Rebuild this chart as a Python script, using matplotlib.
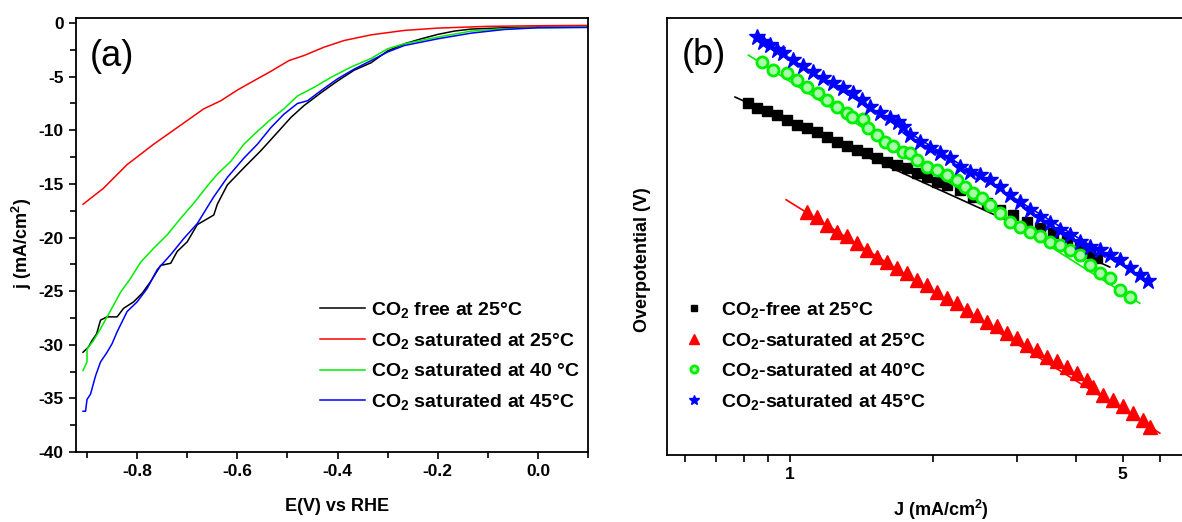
import matplotlib
matplotlib.use("Agg")
from matplotlib import pyplot as plt
from matplotlib import ticker as mtick

plt.rcParams['font.family'] = ['Liberation Sans', 'DejaVu Sans']
plt.rcParams['font.weight'] = 'bold'
plt.rcParams['axes.labelweight'] = 'bold'
plt.rcParams['mathtext.default'] = 'regular'
plt.rcParams['axes.unicode_minus'] = False

# --- (a) polarisation curves: E (V vs RHE) and j (mA/cm2) ---
e_free = [-0.908, -0.897, -0.89, -0.881, -0.873, -0.86, -0.84, -0.827, -0.807, -0.79, -0.773,
          -0.753, -0.733, -0.72, -0.70, -0.68, -0.647, -0.64, -0.62, -0.587, -0.553, -0.52,
          -0.493, -0.467, -0.433, -0.40, -0.367, -0.333, -0.30, -0.267, -0.233, -0.20, -0.167,
          -0.133, -0.067, 0.0, 0.10]
j_free = [-30.7, -30.2, -29.6, -29.0, -27.7, -27.4, -27.4, -26.6, -26.0, -25.2, -24.1,
          -22.6, -22.4, -21.3, -20.4, -18.8, -17.9, -16.9, -15.1, -13.5, -11.9, -10.2,
          -8.8, -7.7, -6.5, -5.4, -4.4, -3.7, -2.6, -1.94, -1.47, -1.06, -0.75,
          -0.56, -0.44, -0.38, -0.38]

e_sat25 = [-0.908, -0.867, -0.82, -0.767, -0.72, -0.667, -0.633, -0.60, -0.56, -0.533, -0.497,
           -0.467, -0.427, -0.387, -0.333, -0.267, -0.20, -0.10, 0.0, 0.10]
j_sat25 = [-16.9, -15.4, -13.2, -11.3, -9.75, -8.0, -7.25, -6.25, -5.2, -4.5, -3.5,
           -3.03, -2.25, -1.63, -1.1, -0.69, -0.47, -0.31, -0.25, -0.22]

e_sat40 = [-0.908, -0.90, -0.90, -0.887, -0.873, -0.86, -0.847, -0.833, -0.813, -0.793, -0.767,
           -0.74, -0.713, -0.687, -0.66, -0.64, -0.613, -0.587, -0.56, -0.533, -0.507, -0.48,
           -0.447, -0.413, -0.373, -0.333, -0.30, -0.267, -0.20, -0.133, -0.067, 0.0, 0.10]
j_sat40 = [-32.4, -31.6, -30.4, -29.6, -28.5, -27.4, -26.3, -25.1, -23.8, -22.3, -21.0,
           -19.75, -18.2, -16.8, -15.2, -14.1, -12.9, -11.3, -10.1, -8.97, -8.0, -6.8,
           -6.0, -5.06, -4.1, -3.3, -2.4, -1.94, -1.31, -0.75, -0.53, -0.44, -0.38]

e_sat45 = [-0.908, -0.903, -0.90, -0.893, -0.883, -0.873, -0.86, -0.85, -0.84, -0.82, -0.80,
           -0.78, -0.76, -0.733, -0.707, -0.68, -0.647, -0.62, -0.587, -0.56, -0.533, -0.507,
           -0.48, -0.46, -0.433, -0.40, -0.367, -0.333, -0.30, -0.267, -0.20, -0.133, -0.067,
           0.0, 0.10]
j_sat45 = [-36.2, -36.2, -35.1, -34.6, -32.9, -31.6, -30.7, -29.9, -28.8, -26.9, -26.0,
           -24.75, -23.0, -21.6, -20.1, -18.7, -16.2, -14.4, -12.6, -11.3, -9.75, -8.5,
           -7.5, -7.25, -6.3, -5.2, -4.3, -3.5, -2.7, -2.1, -1.47, -0.94, -0.6,
           -0.44, -0.41]

labels_a = ['CO$_2$ free at 25°C', 'CO$_2$ saturated at 25°C',
            'CO$_2$ saturated at 40 °C', 'CO$_2$ saturated at 45°C']

# --- (b) Tafel plots: J (mA/cm2) against overpotential ---
tj_free = [0.817, 0.851, 0.894, 0.938, 0.984, 1.033, 1.084, 1.138, 1.194, 1.253, 1.315,
           1.381, 1.449, 1.521, 1.596, 1.676, 1.759, 1.846, 1.937, 2.033, 2.134, 2.276,
           2.427, 2.590, 2.762, 2.945, 3.143, 3.352, 3.574, 3.814, 4.067, 4.269, 4.410]
eta_free = [0.805, 0.793, 0.786, 0.778, 0.767, 0.755, 0.748, 0.740, 0.728, 0.717, 0.706,
            0.698, 0.690, 0.679, 0.671, 0.664, 0.656, 0.645, 0.637, 0.625, 0.618, 0.606,
            0.591, 0.576, 0.561, 0.549, 0.534, 0.519, 0.507, 0.492, 0.477, 0.462, 0.450]
fit_j_free = [0.766, 4.70]
fit_eta_free = [0.819, 0.430]

tj_sat25 = [1.084, 1.138, 1.194, 1.253, 1.315, 1.381, 1.449, 1.521, 1.596, 1.676, 1.759,
            1.846, 1.937, 2.033, 2.134, 2.240, 2.350, 2.467, 2.590, 2.718, 2.853, 2.995,
            3.143, 3.299, 3.462, 3.634, 3.814, 4.003, 4.201, 4.337, 4.551, 4.777, 5.014,
            5.262, 5.523, 5.706]
eta_sat25 = [0.557, 0.545, 0.526, 0.511, 0.500, 0.484, 0.469, 0.454, 0.442, 0.427, 0.416,
             0.400, 0.389, 0.374, 0.359, 0.347, 0.332, 0.320, 0.305, 0.294, 0.278, 0.267,
             0.252, 0.240, 0.225, 0.214, 0.202, 0.187, 0.172, 0.156, 0.137, 0.126, 0.111,
             0.095, 0.080, 0.065]
fit_j_sat25 = [0.981, 5.989]
fit_eta_sat25 = [0.584, 0.050]

tj_sat40 = [0.872, 0.922, 0.984, 1.033, 1.084, 1.147, 1.194, 1.253, 1.315, 1.348, 1.426,
            1.461, 1.521, 1.583, 1.648, 1.730, 1.787, 1.846, 1.937, 2.033, 2.134, 2.240,
            2.331, 2.427, 2.528, 2.632, 2.762, 2.899, 3.043, 3.193, 3.352, 3.518, 3.692,
            3.875, 4.067, 4.269, 4.480, 4.702, 4.935, 5.180]
eta_sat40 = [0.900, 0.881, 0.873, 0.858, 0.843, 0.828, 0.812, 0.797, 0.782, 0.774, 0.768,
             0.748, 0.732, 0.717, 0.706, 0.694, 0.690, 0.675, 0.660, 0.652, 0.641, 0.629,
             0.614, 0.599, 0.587, 0.572, 0.553, 0.534, 0.522, 0.511, 0.500, 0.488, 0.481,
             0.469, 0.458, 0.435, 0.416, 0.404, 0.378, 0.362]
fit_j_sat40 = [0.817, 5.437]
fit_eta_sat40 = [0.915, 0.347]

tj_sat45 = [0.851, 0.879, 0.908, 0.938, 0.968, 1.016, 1.066, 1.119, 1.175, 1.233, 1.294,
            1.358, 1.415, 1.473, 1.546, 1.622, 1.689, 1.730, 1.787, 1.876, 1.969, 2.066,
            2.169, 2.276, 2.389, 2.507, 2.631, 2.762, 2.899, 3.043, 3.193, 3.352, 3.518,
            3.692, 3.875, 4.067, 4.269, 4.480, 4.702, 4.935, 5.180, 5.437, 5.658]
eta_sat45 = [0.957, 0.946, 0.938, 0.927, 0.919, 0.904, 0.889, 0.877, 0.862, 0.851, 0.839,
             0.828, 0.812, 0.797, 0.782, 0.770, 0.763, 0.751, 0.732, 0.717, 0.702, 0.690,
             0.679, 0.660, 0.648, 0.641, 0.629, 0.614, 0.595, 0.580, 0.561, 0.545, 0.530,
             0.515, 0.503, 0.488, 0.477, 0.469, 0.458, 0.446, 0.427, 0.412, 0.397]
fit_j_sat45 = [0.85, 5.70]
fit_eta_sat45 = [0.955, 0.395]

labels_b = ['CO$_2$-free at 25°C', 'CO$_2$-saturated at 25°C',
            'CO$_2$-saturated at 40°C', 'CO$_2$-saturated at 45°C']

colors = ['black', '#ff0000', '#00ee00', '#0000ff']


def style_axes(ax):
    for sp in ax.spines.values():
        sp.set_linewidth(1.3)
    ax.tick_params(which='both', direction='out', width=1.2, labelsize=12.5, top=False, right=False)
    ax.tick_params(which='major', length=5, pad=4)
    ax.tick_params(which='minor', length=4)


fig = plt.figure(figsize=(11.82, 5.22), dpi=100)

# panel (a)
ax1 = fig.add_axes([0.0643, 0.1341, 0.4332, 0.8314])
series_a = [(e_free, j_free), (e_sat25, j_sat25), (e_sat40, j_sat40), (e_sat45, j_sat45)]
for (e, j), c, lab in zip(series_a, colors, labels_a):
    ax1.plot(e, j, color=c, lw=1.1, label=lab)
ax1.set_xlim(-0.922, 0.10)
ax1.set_ylim(-40, 0.47)
ax1.xaxis.set_major_locator(mtick.MultipleLocator(0.2))
ax1.xaxis.set_minor_locator(mtick.MultipleLocator(0.1))
ax1.xaxis.set_major_formatter(mtick.FormatStrFormatter('%.1f'))
ax1.yaxis.set_major_locator(mtick.MultipleLocator(5))
ax1.yaxis.set_minor_locator(mtick.MultipleLocator(2.5))
style_axes(ax1)
ax1.set_xlabel('E(V) vs RHE', fontsize=13)
ax1.set_ylabel('j (mA/cm$^2$)', fontsize=13)
ax1.xaxis.set_label_coords(0.51, -0.106)
ax1.yaxis.set_label_coords(-0.082, 0.48)
ax1.text(0.027, 0.912, '(a)', transform=ax1.transAxes, fontsize=26, fontweight='normal',
         ha='left', va='center')
ax1.legend(loc='upper left', bbox_to_anchor=(0.477, 0.35), frameon=False, fontsize=14,
           handlelength=2.3, handletextpad=0.3, labelspacing=0.55, borderpad=0,
           borderaxespad=0)

# panel (b)
ax2 = fig.add_axes([0.5643, 0.1284, 0.4442, 0.8372])
ax2.set_xscale('log')
series_b = [(tj_free, eta_free, fit_j_free, fit_eta_free, 's', 7.5),
            (tj_sat25, eta_sat25, fit_j_sat25, fit_eta_sat25, '^', 10.5),
            (tj_sat40, eta_sat40, fit_j_sat40, fit_eta_sat40, 'o', 8),
            (tj_sat45, eta_sat45, fit_j_sat45, fit_eta_sat45, '*', 12)]
handles = []
for (tj, eta, fj, fe, m, ms), c in zip(series_b, colors):
    ax2.plot(fj, fe, color=c, lw=1.2)
    if m == 'o':
        h, = ax2.plot(tj, eta, ls='none', marker=m, ms=ms, mfc='#a6ffa6', mec=c, mew=2.0)
    else:
        h, = ax2.plot(tj, eta, ls='none', marker=m, ms=ms, color=c, mec=c)
    handles.append(h)
ax2.set_xlim(0.551, 7.0)
ax2.set_ylim(0.0, 1.0)
ax2.set_xticks([1, 5])
ax2.set_xticklabels(['1', '5'])
ax2.xaxis.set_minor_locator(mtick.FixedLocator([0.6, 0.7, 0.8, 0.9, 2, 3, 4, 6]))
ax2.xaxis.set_minor_formatter(mtick.NullFormatter())
ax2.set_yticks([])
style_axes(ax2)
ax2.tick_params(which='minor', length=5)
ax2.set_xlabel('J (mA/cm$^2$)', fontsize=13)
ax2.set_ylabel('Overpotential (V)', fontsize=13)
ax2.xaxis.set_label_coords(0.522, -0.098)
ax2.yaxis.set_label_coords(-0.030, 0.447)
ax2.text(0.029, 0.915, '(b)', transform=ax2.transAxes, fontsize=26, fontweight='normal',
         ha='left', va='center')
ax2.legend(handles, labels_b, loc='upper left', bbox_to_anchor=(0.032, 0.355), frameon=False,
           fontsize=14, markerscale=0.65, handlelength=1.0, handletextpad=0.9,
           labelspacing=0.55, borderpad=0, borderaxespad=0)

fig.savefig('out.png', dpi=100)
